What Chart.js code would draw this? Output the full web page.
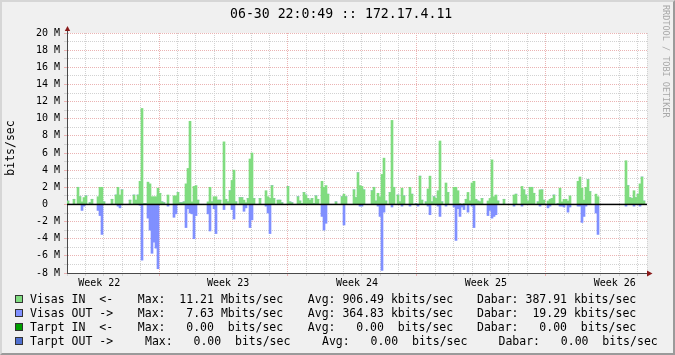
<!DOCTYPE html>
<html>
<head>
<meta charset="utf-8">
<script src="https://cdn.jsdelivr.net/npm/chart.js@4.4.1/dist/chart.umd.min.js"></script>
<style>
html,body{margin:0;padding:0;background:#f0f0f0;}
#wrap{position:relative;width:675px;height:355px;background:#f0f0f0;overflow:hidden;font-family:"DejaVu Sans Mono",monospace;}
canvas{position:absolute;left:0;top:0;}
.t{position:absolute;white-space:pre;color:#000;font-family:"DejaVu Sans Mono",monospace;}
#title{left:230px;top:6px;font-size:13.2px;line-height:16px;}
#ytitle{left:-20px;top:141px;width:60px;text-align:center;font-size:11.5px;line-height:14px;transform:rotate(-90deg);}
#wm{left:661px;top:5px;font-size:8.5px;line-height:9px;writing-mode:vertical-rl;color:#a8a8a8;}
.lg{position:absolute;font-size:11.5px;line-height:14px;white-space:pre;color:#000;font-family:"DejaVu Sans Mono",monospace;}
.sq{position:absolute;width:6px;height:6px;border:1px solid #333;}
#frame{position:absolute;left:0;top:0;width:675px;height:355px;box-sizing:border-box;border-top:2px solid #d6d6d6;border-left:2px solid #d6d6d6;border-right:2px solid #9a9a9a;border-bottom:2px solid #9a9a9a;pointer-events:none;}
</style>
</head>
<body>
<div id="wrap">
  <canvas id="c" width="675" height="355"></canvas>
  <div id="title" class="t"></div>
  <div id="ytitle" class="t"></div>
  <div id="wm" class="t"></div>
  <div id="legend"></div>
  <div id="frame"></div>
</div>
<script>
// ---------- DATA (Mbit/s, one value per slot, ~2.2 h each) ----------
const titleText = '06-30 22:0:49 :: 172.17.4.11';
const yAxisTitle = 'bits/sec';
const watermark = 'RRDTOOL / TOBI OETIKER';
const weekLabels = ['Week 22', 'Week 23', 'Week 24', 'Week 25', 'Week 26'];

const visasIn = [
  0.4,0,0,0.6,0,2.0,0.9,0.3,0.8,1.0, 0,0.2,0.6,0,0,0.9,2.0,2.0,0.3,0, 0,0,0.6,0,1.1,2.0,1.1,1.7,0,0,
  0,0.5,0,1.1,0.5,1.1,2.7,11.2,0.1,0.1, 2.6,2.4,0.9,0.9,0.9,1.9,1.3,0.3,0.2,0, 1.1,0,0,1.0,1.0,1.4,0.2,0.2,
  0.3,2.4,4.2,9.7,0.3,2.1,2.2,0.5,0,0, 0,0,0.3,2.0,0.3,0.9,0.9,0.5,0.5,0, 7.3,0.6,0.3,1.6,2.8,4.0,0.3,0,0.8,0.8,
  0.5,0.2,0.7,5.3,6.0,0.7,0,0,0.7,0, 0,1.6,0.9,0.7,2.2,0.7,0,0.5,0.5,0.2, 0,0,2.1,0.3,0.2,0,0,0.9,
  0.4,0.1,1.4,1.1,0.7,0.5,0.7,0.1,1.0,0.6, 0,2.7,2.0,2.2,1.2,0,0,0,0.3,0, 0,0.9,1.2,0.9,0,0,0,1.7,0.8,3.7,
  2.2,2.1,1.7,0,0,0,1.6,2.0,0.4,1.3, 0.9,3.5,5.4,0.4,0,1.4,9.8,2.0,0,1.1, 0.3,1.9,1.0,0,0,2.0,1.2,0,
  0.1,0,3.3,0.5,0,0.3,1.8,3.3,0.3,0.9, 0.7,1.6,7.4,0.3,0,2.5,1.4,0,0,2.0, 2.0,1.6,0.1,0,0.1,0.6,1.4,0.4,2.5,2.7,
  0.6,0.4,0.3,0.7,0,0,0.4,0.7,5.2,0.9, 1.1,0.4,0,0,0.6,0,0,0,0,1.1, 1.2,0,0,2.1,1.7,1.1,0.4,2.0,
  2.0,1.3,0,0.3,1.7,1.7,0.5,0,0.4,0.6, 0.7,1.1,0,0.1,1.9,0.3,0.6,0.6,0.4,1.0, 0,0,0,2.7,3.2,1.9,0.5,2.0,2.9,1.5,
  0,0,1.2,0.9,0,0,0,0,0,0, 0,0,0,0,0,0,0,5.1,2.2,0.8, 0.7,1.6,0.8,1.2,2.4,3.2,0.4,0
];
const visasOut = [
  0,0,0,0,0,0,0,0.7,0.2,0, 0,0,0,0,0,0.7,1.3,3.5,0,0, 0,0,0,0,0,0.2,0.4,0,0,0,
  0,0,0,0,0,0,0.1,6.5,0,0, 1.6,3.0,5.7,4.4,5.1,7.5,0,0,0,0, 0.2,0,0,1.5,1.1,0,0,0,
  0,2.7,0.5,1.0,1.1,4.0,1.3,0,0,0, 0,0,1.1,3.1,0,0.5,3.4,0,0,0, 0.6,0,0,0,0.6,1.7,0,0,0,0,
  0.8,0.4,0,2.7,1.8,0,0,0,0,0, 0,0.2,1.0,3.4,0,0,0,0,0,0, 0,0,0,0,0,0,0,0,
  0,0,0,0,0,0,0,0,0,0, 0,1.4,3.0,2.2,0,0,0,0,0,0, 0,0,2.4,0,0,0,0,0,0,0,
  0.2,0.2,0,0,0,0,0,0,0,0.2, 1.4,7.7,0.9,0,0,0,0.3,0,0,0, 0,0.2,0,0,0,0.2,0,0,
  0,0.2,0,0,0,0,0.2,1.2,0,0, 0,0.2,1.4,0,0,0.2,0,0,0,0.3, 4.2,0.5,1.4,0.3,0.6,0,0.9,0,0.2,2.7,
  0,0,0,0,0,0,1.3,0.7,1.6,1.4, 1.2,0,0,0,0,0,0,0,0,0.2, 0,0,0,0.2,0,0,0,0,
  0,0,0,0,0.2,0,0,0,0.4,0.2, 0,0,0,0,0.2,0.2,0.3,0,0.9,0.3, 0,0,0,0.2,0.2,2.1,1.4,0.2,0,0,
  0,0,1.0,3.5,0,0,0,0,0,0, 0,0,0,0,0,0,0,0.2,0,0, 0,0.2,0,0,0.2,0,0,0
];

// legend statistics
const legendNames = ['Visas IN  <-', 'Visas OUT ->', 'Tarpt IN  <-', 'Tarpt OUT ->'];
const maxVals   = [11.21, 7.63, 0.00, 0.00];
const maxUnits  = ['M', 'M', ' ', ' '];
const avgVals   = [906.49, 364.83, 0.00, 0.00];
const avgUnits  = ['k', 'k', ' ', ' '];
const curVals   = [387.91, 19.29, 0.00, 0.00];
const curUnits  = ['k', 'k', ' ', ' '];

// ---------- STYLE ----------
const COLORS = ['#80DC80', '#8090FF', '#00A000', '#5070D0'];
const RED_GRID = '#EBB3B3';
const GRAY_GRID = '#D2D2D2';
const AXIS = '#4a4a4a';
const ARROW = '#8a1a1a';
const MONO = '"DejaVu Sans Mono", monospace';

document.getElementById('title').textContent = titleText;
document.getElementById('ytitle').textContent = yAxisTitle;
document.getElementById('wm').textContent = watermark;

// legend
(function(){
  const lg = document.getElementById('legend');
  const rowTop = [292, 306, 320, 334];
  const colX = [[137.8, 307.8, 477], [137.8, 307.8, 477], [137.8, 307.8, 477], [145, 322, 498.5]];
  const f = v => v.toFixed(2).padStart(6, ' ');
  legendNames.forEach((n, i) => {
    const sq = document.createElement('div');
    sq.className = 'sq';
    sq.style.left = '15px'; sq.style.top = (rowTop[i] + 3) + 'px';
    sq.style.background = COLORS[i];
    lg.appendChild(sq);
    const parts = [
      [30, n],
      [colX[i][0], 'Max: ' + f(maxVals[i]) + ' ' + maxUnits[i] + 'bits/sec'],
      [colX[i][1], 'Avg: ' + f(avgVals[i]) + ' ' + avgUnits[i] + 'bits/sec'],
      [colX[i][2], 'Dabar: ' + f(curVals[i]) + ' ' + curUnits[i] + 'bits/sec']
    ];
    parts.forEach(([x, s]) => {
      const d = document.createElement('div');
      d.className = 'lg';
      d.style.left = x + 'px'; d.style.top = rowTop[i] + 'px';
      d.textContent = s;
      lg.appendChild(d);
    });
  });
})();

// time axis: days from left edge; week boundaries every 7 days
const totalDays = 31;
const firstWeekBoundary = 5;
const slots = visasIn.map((_, i) => i);

const decor = {
  id: 'decor',
  beforeDraw(c) {
    const {ctx, chartArea: a} = c;
    ctx.save();
    ctx.fillStyle = '#ffffff';
    ctx.fillRect(a.left, a.top, a.right - a.left, a.bottom - a.top);
    ctx.restore();
  },
  afterDatasetsDraw(c) {
    const {ctx, chartArea: a} = c;
    const y0 = c.scales.y.getPixelForValue(0);
    ctx.save();
    ctx.fillStyle = '#000';
    ctx.fillRect(a.left, y0 - 0.75, a.right - a.left, 1.5);
    ctx.restore();
  },
  afterDraw(c) {
    const {ctx, chartArea: a} = c;
    ctx.save();
    ctx.strokeStyle = AXIS; ctx.lineWidth = 1;
    ctx.beginPath();
    ctx.moveTo(a.left + 0.5, a.top); ctx.lineTo(a.left + 0.5, a.top - 3);
    ctx.moveTo(a.right, a.bottom + 0.5); ctx.lineTo(a.right + 2, a.bottom + 0.5);
    ctx.stroke();
    ctx.fillStyle = ARROW;
    ctx.beginPath();
    ctx.moveTo(a.left + 0.5, a.top - 7);
    ctx.lineTo(a.left + 3.2, a.top - 2);
    ctx.lineTo(a.left - 2.2, a.top - 2);
    ctx.closePath(); ctx.fill();
    ctx.beginPath();
    ctx.moveTo(a.right + 5.5, a.bottom + 0.5);
    ctx.lineTo(a.right, a.bottom - 2.5);
    ctx.lineTo(a.right, a.bottom + 3.5);
    ctx.closePath(); ctx.fill();
    ctx.restore();
  }
};

new Chart(document.getElementById('c'), {
  type: 'bar',
  data: {
    labels: slots,
    datasets: [
      {label: 'Visas IN', data: visasIn, backgroundColor: COLORS[0]},
      {label: 'Visas OUT', data: visasOut.map(v => -v), backgroundColor: COLORS[1]}
    ]
  },
  options: {
    responsive: false,
    animation: false,
    events: [],
    layout: {padding: {left: 0, top: 33, right: 28, bottom: 62}},
    datasets: {bar: {barPercentage: 1, categoryPercentage: 1, borderWidth: 0}},
    plugins: {legend: {display: false}, tooltip: {enabled: false}, title: {display: false}},
    scales: {
      x: {type: 'category', stacked: true, display: false},
      days: {
        type: 'linear', axis: 'x', position: 'bottom', min: 0, max: totalDays,
        afterBuildTicks(s) {
          const t = [];
          for (let v = 0; v <= totalDays; v += 0.5) t.push({value: v});
          s.ticks = t;
        },
        afterFit(s) { s.height = 20; },
        ticks: {
          autoSkip: false, maxRotation: 0, minRotation: 0, padding: 1, color: '#000',
          font: {family: MONO, size: 10},
          callback(v) {
            const k = (v - (firstWeekBoundary - 3.5)) / 7;
            return (Number.isInteger(k) && k >= 0 && k < weekLabels.length) ? weekLabels[k] : '';
          }
        },
        grid: {
          lineWidth: 1, tickLength: 3,
          color(ctx) {
            const v = ctx.tick ? ctx.tick.value : 0;
            if (!Number.isInteger(v)) return 'rgba(0,0,0,0)';
            return ((v - firstWeekBoundary) % 7 === 0) ? RED_GRID : GRAY_GRID;
          }
        },
        border: {display: true, color: AXIS, width: 1, dash: [1, 1]}
      },
      y: {
        stacked: true, min: -8, max: 20,
        afterBuildTicks(s) {
          const t = [];
          for (let v = -8; v <= 20; v += 1) t.push({value: v});
          s.ticks = t;
        },
        afterFit(s) { s.width = 67; },
        ticks: {
          autoSkip: false, padding: 4, color: '#000',
          font: {family: MONO, size: 10},
          callback(v) { return v % 2 === 0 ? (v === 0 ? '0  ' : v + ' M') : ''; }
        },
        grid: {
          lineWidth: 1, tickLength: 3,
          color(ctx) {
            const v = ctx.tick ? ctx.tick.value : 0;
            return (v % 2 === 0) ? RED_GRID : GRAY_GRID;
          }
        },
        border: {display: true, color: AXIS, width: 1, dash: [1, 1]}
      }
    }
  },
  plugins: [decor]
});
</script>
</body>
</html>
